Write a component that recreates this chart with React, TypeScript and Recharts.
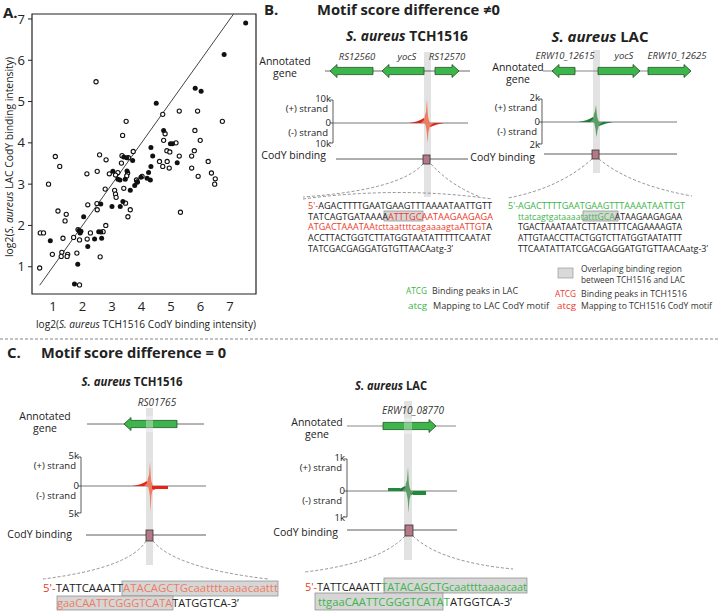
import React from 'react';
import { ScatterChart, Scatter, XAxis, YAxis, ReferenceLine, ReferenceArea } from 'recharts';

const FONT = '"Open Sans", "Noto Sans", sans-serif';
const RED = '#ec3a2a';
const SALMON = '#ee7c60';
const GREEN = '#3cb54a';
const INK = '#222';

const xTicks = [1, 2, 3, 4, 5, 6, 7];
const yTicks = [1, 2, 3, 4, 5, 6, 7];

// [TCH1516, LAC] log2 binding intensity
const filledPoints: [number, number][] = [
  [7.53, 6.9], [6.8, 6.14], [5.82, 5.32], [6.02, 5.25], [4.5, 4.96], [4.75, 4.3],
  [4.98, 3.98], [5.05, 3.98], [4.32, 3.89], [3.4, 3.66], [3.5, 3.64], [4.38, 3.68],
  [3.7, 3.57], [5.21, 3.52], [4.32, 3.43], [3.03, 3.31], [3.51, 3.32], [4.24, 3.28],
  [3.2, 3.12], [3.27, 3.1], [3.45, 3.12], [3.98, 3.17], [4.19, 3.14], [4.3, 3.1],
  [3.85, 3.06], [0.91, 1.63], [1.84, 1.06], [1.73, 0.58], [1.88, 1.88], [1.95, 1.86],
  [1.92, 1.82], [2.04, 2.21], [2.18, 1.49], [2.41, 1.67], [2.62, 2.52], [2.55, 1.85],
  [2.62, 1.84], [2.65, 1.69], [3.0, 2.46], [3.28, 2.46], [3.37, 2.58], [3.62, 2.85],
  [3.77, 2.97],
];

const openPoints: [number, number][] = [
  [2.46, 5.48], [5.28, 4.77], [5.9, 4.77], [4.72, 4.69], [6.74, 4.52], [3.48, 4.52],
  [4.8, 4.22], [5.81, 4.3], [3.36, 4.18], [5.99, 4.06], [4.75, 4.06], [5.17, 4.0],
  [3.72, 3.79], [4.86, 3.81], [4.96, 3.78], [5.79, 3.81], [2.58, 3.71], [3.34, 3.69],
  [3.56, 3.64], [5.28, 3.68], [5.7, 3.68], [2.8, 3.59], [3.32, 3.51], [4.61, 3.55],
  [4.87, 3.55], [6.26, 3.55], [1.08, 3.67], [1.23, 3.43], [4.72, 3.43], [4.94, 3.39],
  [5.7, 3.39], [2.5, 3.31], [2.15, 3.25], [2.91, 3.25], [3.2, 3.28], [3.53, 3.27],
  [3.5, 3.2], [6.37, 3.27], [5.92, 3.19], [4.02, 3.19], [6.5, 3.13], [6.48, 3.0],
  [3.83, 3.1], [0.85, 3.0], [3.12, 3.22], [0.55, 0.97], [0.57, 1.82], [0.68, 1.82],
  [0.98, 1.3], [1.17, 2.35], [1.45, 2.27], [1.41, 2.11], [1.34, 1.69], [1.3, 1.35],
  [1.28, 1.25], [1.5, 1.3], [1.48, 1.25], [1.7, 1.71], [1.81, 1.33], [1.9, 0.56],
  [1.9, 1.65], [1.85, 1.9], [2.18, 2.5], [2.27, 1.82], [2.16, 1.67], [2.49, 2.53],
  [2.5, 2.38], [2.7, 1.85], [2.79, 2.0], [2.6, 1.24], [2.77, 2.88], [3.09, 2.85],
  [3.12, 2.76], [3.14, 2.68], [3.46, 2.54], [3.62, 2.38], [3.54, 2.21], [3.4, 2.9],
  [3.86, 3.05], [5.32, 2.32],
];

const xDomain: [number, number] = [0.29, 7.88];
const yDomain: [number, number] = [0.34, 7.12];

const toRows = (pts: [number, number][]) => pts.map(([x, y]) => ({ x, y }));

const FilledDot = (p: any) => <circle cx={p.cx} cy={p.cy} r={2.5} fill="#111" />;
const OpenDot = (p: any) => <circle cx={p.cx} cy={p.cy} r={2.1} fill="#fff" stroke="#111" strokeWidth={1.1} />;

type Seg = [string, string];

function SeqLine({ x, y, len, segs, size = 9.5 }: { x: number; y: number; len: number; segs: Seg[]; size?: number }) {
  return (
    <text x={x} y={y} fontSize={size} textLength={len} lengthAdjust="spacingAndGlyphs" fontFamily={FONT}>
      {segs.map(([c, t], i) => (
        <tspan key={i} fill={c}>{t}</tspan>
      ))}
    </text>
  );
}

function GeneArrow({ x1, x2, y, dir }: { x1: number; x2: number; y: number; dir: 'L' | 'R' }) {
  const h = 7;
  const b = 3.6;
  let pts;
  if (dir === 'L') {
    const hx = x1 + h;
    pts = [[x1, y], [hx, y - 6.5], [hx, y - b], [x2, y - b], [x2, y + b], [hx, y + b], [hx, y + 6.5]];
  } else {
    const hx = x2 - h;
    pts = [[x2, y], [hx, y - 6.5], [hx, y - b], [x1, y - b], [x1, y + b], [hx, y + b], [hx, y + 6.5]];
  }
  return <polygon points={pts.map((p) => p.join(',')).join(' ')} fill={GREEN} stroke="#1f4f24" strokeWidth={0.8} />;
}

function Bracket({ x, top, mid, bot }: { x: number; top: number; mid: number; bot: number }) {
  return (
    <g stroke="#333" strokeWidth={0.8} fill="none">
      <path d={`M${x - 3},${top} L${x},${top} L${x},${bot} L${x - 3},${bot}`} />
      <line x1={x - 3} x2={x} y1={mid} y2={mid} />
    </g>
  );
}

function Peak({ cx, base, top, bot, light, dark }: { cx: number; base: number; top: number; bot: number; light: string; dark: string }) {
  return (
    <g>
      <path d={`M${cx - 18},${base} Q${cx - 9},${base - 1} ${cx - 3},${base - 5} L${cx},${base} Z`} fill={dark} />
      <path d={`M${cx},${base} L${cx + 3},${base + 4} Q${cx + 10},${base + 1} ${cx + 17},${base} Z`} fill={dark} />
      <path d={`M${cx - 6},${base} L${cx - 3},${base - 3} L${cx - 2},${base - 8} L${cx - 1},${base - 11} L${cx},${top} L${cx + 0.8},${base - 9} L${cx + 1.5},${base - 4} L${cx + 3},${base} Z`} fill={light} />
      <path d={`M${cx - 2},${base} L${cx - 0.5},${base + 7} L${cx},${base + 12} L${cx + 0.6},${bot} L${cx + 1.4},${base + 9} L${cx + 3},${base + 3} L${cx + 7},${base} Z`} fill={light} />
    </g>
  );
}

function Track(props: {
  labelX: number; axisX: number; lineEnd: number; top: number; mid: number; bot: number;
  lo: string; codyY: number; codyLabelY: number; boxX: number; boxY: number; boxW: number; boxH: number;
  codyLineStart: number; annX: number; annY: number;
}) {
  const p = props;
  return (
    <g fontFamily={FONT} fill={INK}>
      <text x={p.annX} y={p.annY} fontSize={10.5} textAnchor="middle">Annotated</text>
      <text x={p.annX} y={p.annY + 12} fontSize={10.5} textAnchor="middle">gene</text>
      <text x={p.axisX - 2} y={p.top + 2} fontSize={9.5} textAnchor="end">{p.lo}</text>
      <text x={p.axisX - 5} y={p.top + 12} fontSize={9.5} textAnchor="end">(+) strand</text>
      <text x={p.axisX - 2} y={p.mid + 3} fontSize={9.5} textAnchor="end">0</text>
      <text x={p.axisX - 5} y={p.mid + 13} fontSize={9.5} textAnchor="end">(-) strand</text>
      <text x={p.axisX - 2} y={p.bot + 4} fontSize={9.5} textAnchor="end">{p.lo}</text>
      <Bracket x={p.axisX} top={p.top} mid={p.mid} bot={p.bot} />
      <line x1={p.axisX} x2={p.lineEnd} y1={p.mid} y2={p.mid} stroke="#555" strokeWidth={0.8} />
      <text x={p.labelX} y={p.codyLabelY} fontSize={10.5} textAnchor="end">CodY binding</text>
      <line x1={p.codyLineStart} x2={p.lineEnd} y1={p.codyY} y2={p.codyY} stroke="#333" strokeWidth={0.8} />
      <rect x={p.boxX} y={p.boxY} width={p.boxW} height={p.boxH} fill="#b57886" stroke="#333" strokeWidth={0.8} />
    </g>
  );
}

function Title({ x, y, rest, len, size = 14 }: { x: number; y: number; rest: string; len: number; size?: number }) {
  return (
    <text x={x - len / 2} y={y} fontSize={size} fontWeight="bold" fontFamily={FONT} fill={INK}
      textLength={len} lengthAdjust="spacingAndGlyphs">
      <tspan fontStyle="italic">S. aureus</tspan>
      <tspan>{' ' + rest}</tspan>
    </text>
  );
}

function Overlay() {
  const dash = { stroke: '#777', strokeWidth: 0.8, strokeDasharray: '3 2', fill: 'none' } as const;
  const box = { fill: '#d6d6d6', stroke: '#888', strokeWidth: 0.7 } as const;
  return (
    <svg width={718} height={612} style={{ position: 'absolute', left: 0, top: 0, pointerEvents: 'none' }}>
      {/* panel A labels */}
      <text x={3} y={18} fontSize={15} fontWeight="bold" fontFamily={FONT} fill={INK}>A.</text>
      <text x={146} y={328} fontSize={11} textAnchor="middle" fontFamily={FONT} fill={INK} textLength={220} lengthAdjust="spacingAndGlyphs">
        log2(<tspan fontStyle="italic">S. aureus</tspan> TCH1516 CodY binding intensity)
      </text>
      <text transform="translate(13,157) rotate(-90)" fontSize={11} textAnchor="middle" fontFamily={FONT} fill={INK} textLength={200} lengthAdjust="spacingAndGlyphs">
        log2(<tspan fontStyle="italic">S. aureus</tspan> LAC CodY binding intensity)
      </text>

      {/* panel B */}
      <text x={264} y={15} fontSize={15} fontWeight="bold" fontFamily={FONT} fill={INK}>B.</text>
      <text x={317} y={15} fontSize={14} fontWeight="bold" fontFamily={FONT} fill={INK} textLength={183} lengthAdjust="spacingAndGlyphs">Motif score difference ≠0</text>
      <Title x={407} y={41} rest="TCH1516" len={122} />
      <Title x={600} y={42} rest="LAC" len={97} />

      {/* B left: TCH1516 */}
      <rect x={424} y={52} width={7} height={145} fill="#e2e2e2" />
      <line x1={325} x2={470} y1={71} y2={71} stroke="#444" strokeWidth={0.8} />
      <GeneArrow x1={330} x2={373} y={71} dir="L" />
      <GeneArrow x1={382} x2={424} y={71} dir="L" />
      <GeneArrow x1={435} x2={459} y={71} dir="R" />
      <g fontFamily={FONT} fontSize={9.5} fontStyle="italic" fill="#333" textAnchor="middle">
        <text x={357} y={60}>RS12560</text>
        <text x={407} y={60}>yocS</text>
        <text x={447} y={60}>RS12570</text>
      </g>
      <Track annX={285} annY={65} labelX={326} axisX={333} lineEnd={468} top={100} mid={123} bot={143} lo="10k"
        codyY={159} codyLabelY={159} codyLineStart={336} boxX={423} boxY={155} boxW={7} boxH={9} />
      <Peak cx={427} base={123} top={99} bot={143} light={SALMON} dark="#dc2418" />
      <path d="M423,164 Q400,190 303,197" {...dash} />
      <path d="M431,164 Q450,185 480,197" {...dash} />
      <path d="M303,199 Q400,186 492,199" {...dash} />

      {/* B right: LAC */}
      <rect x={593} y={50} width={7} height={123} fill="#e2e2e2" />
      <line x1={543} x2={690} y1={71} y2={71} stroke="#888" strokeWidth={1.2} />
      <GeneArrow x1={552} x2={575} y={71} dir="L" />
      <GeneArrow x1={598} x2={640} y={71} dir="R" />
      <GeneArrow x1={648} x2={691} y={71} dir="R" />
      <g fontFamily={FONT} fontSize={9.5} fontStyle="italic" fill="#333" textAnchor="middle">
        <text x={565} y={59}>ERW10_12615</text>
        <text x={624} y={59}>yocS</text>
        <text x={677} y={59}>ERW10_12625</text>
      </g>
      <Track annX={518} annY={71} labelX={535} axisX={542} lineEnd={677} top={99} mid={122} bot={144} lo="2k"
        codyY={154} codyLabelY={161} codyLineStart={544} boxX={592} boxY={150} boxW={7} boxH={9} />
      <Peak cx={596} base={122} top={105} bot={137} light="#5d9e68" dark="#1f7a3a" />
      <path d="M592,159 Q560,188 508,198" {...dash} />
      <path d="M599,159 Q630,185 692,196" {...dash} />

      {/* B sequences */}
      <rect x={384} y={211} width={39} height={10} {...box} />
      <SeqLine x={308} y={209} len={184} segs={[[RED, "5'-"], [INK, 'AGACTTTTGAATGAAGTTTAAAATAATTGTT']]} />
      <SeqLine x={308} y={219.5} len={185} segs={[[INK, 'TATCAGTGATAAAA'], [RED, 'ATTTGC'], [RED, 'AATAAGAAGAGA']]} />
      <SeqLine x={308} y={230} len={184} segs={[[RED, 'ATGACTAAATAAtcttaattttcagaaaagtaATTGT'], [INK, 'A']]} />
      <SeqLine x={308} y={241} len={183} segs={[[INK, 'ACCTTACTGGTCTTATGGTAATATTTTTCAATAT']]} />
      <SeqLine x={308} y={251.5} len={145} segs={[[INK, "TATCGACGAGGATGTGTTAACAatg-3’"]]} />

      <rect x={583} y={211} width={35} height={10} {...box} />
      <SeqLine x={508} y={209} len={177} segs={[[GREEN, "5'-AGACTTTTGAATGAAGTTTAAAATAATTGT"]]} />
      <SeqLine x={518} y={219.5} len={164} segs={[[GREEN, 'ttatcagtgataaaatatttGCA'], [INK, 'ATAAGAAGAGAA']]} />
      <SeqLine x={518} y={230} len={164} segs={[[INK, 'TGACTAAATAATCTTAATTTTCAGAAAAGTA']]} />
      <SeqLine x={518} y={241} len={164} segs={[[INK, 'ATTGTAACCTTACTGGTCTTATGGTAATATTT']]} />
      <SeqLine x={518} y={251.5} len={190} segs={[[INK, "TTCAATATTATCGACGAGGATGTGTTAACA"], [INK, "atg-3’"]]} />

      {/* B legend */}
      <rect x={558} y={268} width={15} height={10} fill="#d9d9d9" stroke="#999" strokeWidth={0.7} />
      <g fontFamily={FONT} fontSize={9.5} fill="#333">
        <text x={581} y={272} textLength={101} lengthAdjust="spacingAndGlyphs">Overlaping binding region</text>
        <text x={581} y={283} textLength={104} lengthAdjust="spacingAndGlyphs">between TCH1516 and LAC</text>
        <text x={406} y={294} fill={GREEN} textLength={21} lengthAdjust="spacingAndGlyphs">ATCG</text>
        <text x={432} y={294} textLength={86} lengthAdjust="spacingAndGlyphs">Binding peaks in LAC</text>
        <text x={408} y={309} fill={GREEN} textLength={19} lengthAdjust="spacingAndGlyphs">atcg</text>
        <text x={433} y={309} textLength={116} lengthAdjust="spacingAndGlyphs">Mapping to LAC CodY motif</text>
        <text x={555} y={297} fill={RED} textLength={21} lengthAdjust="spacingAndGlyphs">ATCG</text>
        <text x={581} y={297} textLength={106} lengthAdjust="spacingAndGlyphs">Binding peaks in TCH1516</text>
        <text x={557} y={309} fill={RED} textLength={19} lengthAdjust="spacingAndGlyphs">atcg</text>
        <text x={581} y={309} textLength={131} lengthAdjust="spacingAndGlyphs">Mapping to TCH1516 CodY motif</text>
      </g>

      {/* divider */}
      <line x1={0} x2={718} y1={339} y2={339} stroke="#666" strokeWidth={0.8} strokeDasharray="3 2" />

      {/* panel C */}
      <text x={7} y={358} fontSize={15} fontWeight="bold" fontFamily={FONT} fill={INK}>C.</text>
      <text x={41} y={358} fontSize={14} fontWeight="bold" fontFamily={FONT} fill={INK} textLength={185} lengthAdjust="spacingAndGlyphs">Motif score difference = 0</text>
      <Title x={132} y={386} rest="TCH1516" len={101} size={12.5} />
      <Title x={391} y={390} rest="LAC" len={72} size={12.5} />

      {/* C left */}
      <rect x={146} y={408} width={7} height={157} fill="#e2e2e2" />
      <line x1={87} x2={204} y1={424} y2={424} stroke="#444" strokeWidth={0.8} />
      <GeneArrow x1={124} x2={177} y={424} dir="L" />
      <rect x={146} y={416} width={7} height={16} fill="#fff" opacity={0.35} />
      <text x={157} y={406} fontSize={10} fontStyle="italic" textAnchor="middle" fontFamily={FONT} fill="#333">RS01765</text>
      <Track annX={45} annY={420} labelX={72} axisX={81} lineEnd={206} top={457} mid={486} bot={513} lo="5k"
        codyY={535} codyLabelY={538} codyLineStart={86} boxX={146} boxY={530} boxW={7} boxH={11} />
      <Peak cx={150} base={486} top={462} bot={512} light={SALMON} dark="#e8231a" />
      <rect x={152} y={486} width={16} height={3} fill="#e8231a" />
      <path d="M146,541 Q130,568 43,579" {...dash} />
      <path d="M153,541 Q175,568 268,579" {...dash} />

      <rect x={122} y={581} width={156} height={15} {...box} />
      <rect x={57} y={596} width={116} height={14} {...box} />
      <SeqLine x={43} y={592} len={235} size={11} segs={[[RED, "5'-"], [INK, 'TATTCAAATT'], [SALMON, 'ATACAGCTGcaattttaaaacaattt']]} />
      <SeqLine x={57} y={607} len={182} size={11} segs={[[SALMON, 'gaaCAATTCGGGTCATA'], [INK, 'TATGGTCA-3’']]} />

      {/* C right */}
      <rect x={404} y={401} width={8} height={159} fill="#e2e2e2" />
      <line x1={347} x2={456} y1={426} y2={426} stroke="#888" strokeWidth={1} />
      <GeneArrow x1={383} x2={436} y={426} dir="R" />
      <rect x={404} y={418} width={8} height={16} fill="#fff" opacity={0.35} />
      <text x={413} y={414} fontSize={10} fontStyle="italic" textAnchor="middle" fontFamily={FONT} fill="#333">ERW10_08770</text>
      <Track annX={317} annY={426} labelX={338} axisX={347} lineEnd={457} top={459} mid={491} bot={517} lo="1k"
        codyY={530} codyLabelY={536} codyLineStart={347} boxX={405} boxY={525} boxW={8} boxH={11} />
      <Peak cx={408} base={491} top={467} bot={513} light="#5d9e68" dark="#1f7a3a" />
      <rect x={388} y={488} width={12} height={3} fill="#1f8a3a" />
      <rect x={413} y={491} width={13} height={4} fill="#1f8a3a" />
      <path d="M405,536 Q380,563 305,572" {...dash} />
      <path d="M413,536 Q440,562 513,569" {...dash} />

      <rect x={384} y={578} width={143} height={15} {...box} />
      <rect x={315} y={593} width={128} height={17} {...box} />
      <SeqLine x={305} y={591} len={222} size={11} segs={[[RED, "5'-"], [INK, 'TATTCAAATT'], [GREEN, 'TATACAGCTGcaattttaaaacaat']]} />
      <SeqLine x={318} y={606} len={194} size={11} segs={[[GREEN, 'ttgaaCAATTCGGGTCATAT'], [INK, 'ATGGTCA-3’']]} />
    </svg>
  );
}

export default function App() {
  const tickStyle = { fontSize: 13, fill: INK, fontFamily: FONT };
  return (
    <div style={{ position: 'absolute', left: 0, top: 0, width: 718, height: 612, background: '#fff', overflow: 'hidden' }}>
      <div style={{ position: 'absolute', left: 0, top: 0 }}>
        <ScatterChart width={260} height={330} margin={{ top: 14, right: 4, bottom: 0, left: 0 }}>
          <XAxis type="number" dataKey="x" domain={xDomain} ticks={xTicks} allowDataOverflow height={36}
            tickLine={false} axisLine={false} tickSize={0} tickMargin={8} tick={tickStyle} />
          <YAxis type="number" dataKey="y" domain={yDomain} ticks={yTicks} allowDataOverflow width={32}
            tickSize={4} tickMargin={3} tickLine={{ stroke: INK }} axisLine={false} tick={tickStyle} />
          <ReferenceArea x1={xDomain[0]} x2={xDomain[1]} y1={yDomain[0]} y2={yDomain[1]} fill="none" stroke={INK} strokeWidth={1.2} ifOverflow="visible" />
          <ReferenceLine segment={[{ x: 0.55, y: 0.55 }, { x: 7.12, y: 7.12 }]} stroke="#444" strokeWidth={1} ifOverflow="visible" />
          <Scatter data={toRows(openPoints)} isAnimationActive={false} shape={OpenDot} />
          <Scatter data={toRows(filledPoints)} isAnimationActive={false} shape={FilledDot} />
        </ScatterChart>
      </div>
      <Overlay />
    </div>
  );
}
